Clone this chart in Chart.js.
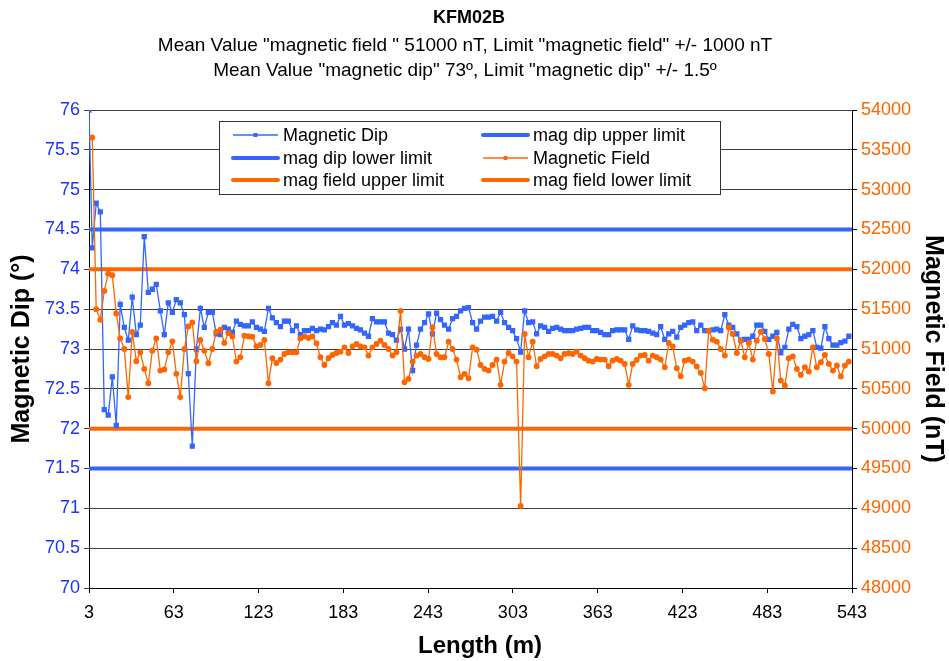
<!DOCTYPE html>
<html>
<head>
<meta charset="utf-8">
<script src="https://cdn.jsdelivr.net/npm/chart.js@4.4.1/dist/chart.umd.min.js"></script>
<style>
html, body { margin: 0; padding: 0; background: #fff; }
#wrap { width: 949px; height: 661px; }
</style>
</head>
<body>
<div id="wrap"><canvas id="chart" width="949" height="661"></canvas></div>
<script>
// borehole length (m) of each reading
var lengths = [3.0,
    5.3, 8.1, 11.0, 13.8, 16.6, 19.5, 22.3, 25.1, 28.0, 30.8, 33.6, 36.5,
    39.3, 42.1, 45.0, 47.8, 50.6, 53.5, 56.3, 59.1, 62.0, 64.8, 67.6, 70.5,
    73.3, 76.1, 79.0, 81.8, 84.6, 87.5, 90.3, 93.1, 96.0, 98.8, 101.6, 104.5,
    107.3, 110.1, 113.0, 115.8, 118.6, 121.5, 124.3, 127.1, 130.0, 132.8, 135.6, 138.5,
    141.3, 144.1, 147.0, 149.8, 152.6, 155.5, 158.3, 161.1, 164.0, 166.8, 169.6, 172.5,
    175.3, 178.1, 181.0, 183.8, 186.6, 189.5, 192.3, 195.1, 198.0, 200.8, 203.6, 206.5,
    209.3, 212.1, 215.0, 217.8, 220.6, 223.5, 226.3, 229.1, 232.0, 234.8, 237.6, 240.5,
    243.3, 246.1, 249.0, 251.8, 254.6, 257.5, 260.3, 263.1, 266.0, 268.8, 271.6, 274.5,
    277.3, 280.1, 283.0, 285.8, 288.6, 291.5, 294.3, 297.1, 300.0, 302.8, 305.6, 308.5,
    311.3, 314.1, 317.0, 319.8, 322.6, 325.5, 328.3, 331.1, 334.0, 336.8, 339.6, 342.5,
    345.3, 348.1, 351.0, 353.8, 356.6, 359.5, 362.3, 365.1, 368.0, 370.8, 373.6, 376.5,
    379.3, 382.1, 385.0, 387.8, 390.6, 393.5, 396.3, 399.1, 402.0, 404.8, 407.6, 410.5,
    413.3, 416.1, 419.0, 421.8, 424.6, 427.5, 430.3, 433.1, 436.0, 438.8, 441.6, 444.5,
    447.3, 450.1, 453.0, 455.8, 458.6, 461.5, 464.3, 467.1, 470.0, 472.8, 475.6, 478.5,
    481.3, 484.1, 487.0, 489.8, 492.6, 495.5, 498.3, 501.1, 504.0, 506.8, 509.6, 512.5,
    515.3, 518.1, 521.0, 523.8, 526.6, 529.5, 532.3, 535.1, 538.0, 540.8];

var magDip = [76.0, 74.27, 74.83, 74.72, 72.24, 72.17, 72.65, 72.04, 73.56, 73.27,
    73.11, 73.65, 73.18, 73.30, 74.41, 73.71, 73.75, 73.81, 73.48, 73.18,
    73.58, 73.46, 73.62, 73.58, 73.43, 72.69, 71.78, 73.00, 73.51, 73.27,
    73.46, 73.46, 73.19, 73.18, 73.27, 73.25, 73.21, 73.35, 73.31, 73.29,
    73.29, 73.34, 73.27, 73.25, 73.22, 73.51, 73.39, 73.33, 73.28, 73.35,
    73.35, 73.23, 73.29, 73.18, 73.23, 73.23, 73.26, 73.23,
    73.25, 73.24, 73.28, 73.33, 73.30, 73.41, 73.30, 73.32, 73.29, 73.26,
    73.24, 73.20, 73.16, 73.38, 73.34, 73.34, 73.34, 73.20, 73.18, 73.11,
    73.25, 73.00, 73.25, 72.73, 73.05, 73.25, 73.33, 73.44,
    73.19, 73.45, 73.37, 73.30, 73.25, 73.38, 73.41, 73.48, 73.51, 73.52,
    73.33, 73.25, 73.35, 73.40, 73.40, 73.41, 73.35, 73.46, 73.33, 73.27,
    73.23, 73.13, 72.96, 73.48, 73.33, 73.34, 73.19,
    73.29, 73.27, 73.22, 73.26, 73.27, 73.25, 73.23, 73.23, 73.23, 73.25,
    73.26, 73.27, 73.27, 73.23, 73.23, 73.21, 73.18, 73.18, 73.23, 73.24,
    73.24, 73.24, 73.12, 73.29, 73.24, 73.23, 73.23,
    73.22, 73.20, 73.18, 73.28, 73.12, 73.19, 73.22, 73.15, 73.27, 73.30,
    73.33, 73.34, 73.23, 73.30, 73.23, 73.23, 73.24, 73.25, 73.23, 73.43,
    73.30, 73.27, 73.19, 73.11, 73.12, 73.12, 73.16, 73.30, 73.30,
    73.22, 73.12, 73.16, 73.21, 72.95, 73.02, 73.25, 73.31, 73.28, 73.13,
    73.16, 73.18, 73.23, 73.02, 73.01, 73.28, 73.13, 73.05, 73.05, 73.08,
    73.10, 73.16];

var magField = [null, 53654, 51500, 51367, 51729, 51946, 51925, 51446, 51133, 51000,
    50396, 51213, 50846, 50958, 50750, 50571, 50979, 51133, 50729, 50742,
    50958, 51096, 50688, 50396, 51000, 51283, 51333, 50846, 51113, 50979,
    50821, 51000, 51217, 51242, 51075, 51200, 51158, 50842, 50896, 51167,
    51158, 51154, 51033, 51050, 51113, 50571, 50883, 50825, 50867, 50938,
    50958, 50958, 50958, 51133, 51158, 51138, 51158, 51071,
    50896, 50800, 50883, 50925, 50950, 50967, 51021, 50950, 51033, 51063,
    51033, 51021, 50917, 51021, 51063, 51104, 51050, 51000, 50917, 50958,
    51479, 50583, 50625, 50842, 50917, 50938, 50896, 50875,
    51271, 50938, 50896, 50896, 51092, 51000, 50867, 50646, 50688, 50633,
    51021, 50992, 50800, 50750, 50729, 50800, 50867, 50550, 50842, 50950,
    50908, 50842, 49030, 51188, 50896, 51092, 50783,
    50875, 50908, 50938, 50938, 50917, 50883, 50938, 50946, 50938, 50967,
    50917, 50883, 50854, 50842, 50875, 50867, 50867, 50783, 50854, 50875,
    50854, 50813, 50550, 50813, 50863, 50917, 50925,
    50854, 50917, 50896, 50867, 50771, 51075, 51033, 50758, 50658, 50854,
    50867, 50842, 50780, 50700, 50508, 51229, 51117, 51092, 51000, 50917,
    51271, 51188, 50950, 51104, 50896, 51075, 50867, 51104, 51217,
    51125, 50938, 50467, 51133, 50604, 50542, 50883, 50908, 50750, 50675,
    50771, 50717, 51021, 50771, 50833, 50925, 50813, 50729, 50792, 50654,
    50792, 50842];

var lengthRange = [3, 543];
var dipRange = [70, 76];
var fieldRange = [48000, 54000];
var dipLimits = [74.5, 71.5];       // upper, lower
var fieldLimits = [52000, 50000];   // upper, lower

var titleText = 'KFM02B';
var subtitleLines = [
    'Mean Value "magnetic field " 51000 nT, Limit "magnetic field" +/- 1000 nT',
    'Mean Value "magnetic dip" 73\u00BA, Limit "magnetic dip" +/- 1.5\u00BA'
];
var xTitle = 'Length (m)';

var FONT = "'Liberation Sans', Arial, sans-serif";
var BLUE = '#3366FF';
var ORANGE = '#FF6600';

function pairs(ys) {
    var out = [];
    for (var i = 0; i < lengths.length; i++) {
        out.push({x: lengths[i], y: ys[i]});
    }
    return out;
}

function flat(v) {
    return [{x: lengthRange[0], y: v}, {x: lengthRange[1], y: v}];
}

function limitSet(label, v, color, axis) {
    return {
        label: label,
        data: flat(v),
        yAxisID: axis,
        borderColor: color,
        backgroundColor: color,
        borderWidth: 4,
        pointRadius: 0,
        showLine: true,
        order: 3
    };
}

var datasets = [
    {
        label: 'Magnetic Dip',
        data: pairs(magDip),
        yAxisID: 'yDip',
        borderColor: BLUE,
        backgroundColor: BLUE,
        borderWidth: 1.3,
        pointStyle: 'rect',
        pointRadius: 2.8,
        showLine: true,
        order: 1
    },
    limitSet('mag dip upper limit', dipLimits[0], BLUE, 'yDip'),
    limitSet('mag dip lower limit', dipLimits[1], BLUE, 'yDip'),
    {
        label: 'Magnetic Field',
        data: pairs(magField),
        yAxisID: 'yField',
        borderColor: ORANGE,
        backgroundColor: ORANGE,
        borderWidth: 1.3,
        pointStyle: 'circle',
        pointRadius: 2.3,
        showLine: true,
        spanGaps: true,
        order: 0
    },
    limitSet('mag field upper limit', fieldLimits[0], ORANGE, 'yField'),
    limitSet('mag field lower limit', fieldLimits[1], ORANGE, 'yField')
];

// titles, x axis title and the boxed legend inside the plot
var overlay = {
    id: 'overlay',
    afterDraw: function (chart) {
        var ctx = chart.ctx;
        ctx.save();
        ctx.fillStyle = '#000';
        ctx.textAlign = 'center';
        ctx.textBaseline = 'middle';
        ctx.font = 'bold 18px ' + FONT;
        ctx.fillText(titleText, 469, 18);
        ctx.font = '19px ' + FONT;
        ctx.fillText(subtitleLines[0], 465, 46);
        ctx.fillText(subtitleLines[1], 465, 71);
        ctx.font = 'bold 24px ' + FONT;
        ctx.fillText(xTitle, 480, 646);

        var bx = 219, by = 121, bw = 501, bh = 73;
        ctx.fillStyle = '#fff';
        ctx.fillRect(bx, by, bw, bh);
        ctx.strokeStyle = '#333';
        ctx.lineWidth = 1;
        ctx.strokeRect(bx + 0.5, by + 0.5, bw, bh);

        var colX = [233, 483], rowY = [135, 158, 180];
        ctx.textAlign = 'left';
        ctx.font = '18px ' + FONT;
        chart.data.datasets.forEach(function (ds, i) {
            var x = colX[i % 2], y = rowY[Math.floor(i / 2)];
            ctx.strokeStyle = ds.borderColor;
            ctx.lineWidth = ds.borderWidth;
            ctx.lineCap = ds.borderWidth > 2 ? 'round' : 'butt';
            ctx.beginPath();
            ctx.moveTo(x, y);
            ctx.lineTo(x + 45, y);
            ctx.stroke();
            if (ds.pointRadius > 0) {
                ctx.fillStyle = ds.borderColor;
                if (ds.pointStyle === 'rect') {
                    ctx.fillRect(x + 20.5, y - 2, 4, 4);
                } else {
                    ctx.beginPath();
                    ctx.arc(x + 22.5, y, 2.3, 0, Math.PI * 2);
                    ctx.fill();
                }
            }
            ctx.fillStyle = '#000';
            ctx.fillText(ds.label, x + 50, y + 1);
        });
        ctx.restore();
    }
};

var ctx = document.getElementById('chart').getContext('2d');

var chart = new Chart(ctx, {
    type: 'scatter',
    data: {datasets: datasets},
    plugins: [overlay],
    options: {
        responsive: false,
        animation: false,
        layout: {padding: {top: 110, left: 0, right: 0, bottom: 0}},
        plugins: {
            legend: {display: false},
            tooltip: {enabled: false}
        },
        scales: {
            x: {
                type: 'linear',
                min: lengthRange[0],
                max: lengthRange[1],
                afterFit: function (s) { s.height = 73; },
                ticks: {
                    stepSize: 60,
                    color: '#000',
                    padding: 9,
                    font: {family: FONT, size: 18}
                },
                grid: {drawOnChartArea: false, drawTicks: true, tickLength: 5, color: '#000'},
                border: {color: '#000', width: 1},
                title: {display: false}
            },
            yDip: {
                type: 'linear',
                position: 'left',
                min: dipRange[0],
                max: dipRange[1],
                afterFit: function (s) { s.width = 89; },
                ticks: {
                    stepSize: 0.5,
                    color: '#1a33ff',
                    padding: 4,
                    font: {family: FONT, size: 18},
                    callback: function (v) { return String(v); }
                },
                grid: {color: 'rgba(0,0,0,0.75)', lineWidth: 1, tickLength: 5},
                border: {color: '#000', width: 1},
                title: {
                    display: true,
                    text: 'Magnetic Dip (\u00B0)',
                    color: '#000',
                    font: {family: FONT, size: 25, weight: 'bold'},
                    padding: {top: 7, bottom: 0}
                }
            },
            yField: {
                type: 'linear',
                position: 'right',
                min: fieldRange[0],
                max: fieldRange[1],
                afterFit: function (s) { s.width = 97; },
                ticks: {
                    stepSize: 500,
                    color: ORANGE,
                    padding: 4,
                    font: {family: FONT, size: 18},
                    callback: function (v) { return String(v); }
                },
                grid: {drawOnChartArea: false, color: '#000', tickLength: 5},
                border: {color: '#000', width: 1},
                title: {
                    display: true,
                    text: 'Magnetic Field (nT)',
                    color: '#000',
                    font: {family: FONT, size: 25, weight: 'bold'},
                    padding: {top: 1, bottom: 0}
                }
            }
        }
    }
});
</script>
</body>
</html>
